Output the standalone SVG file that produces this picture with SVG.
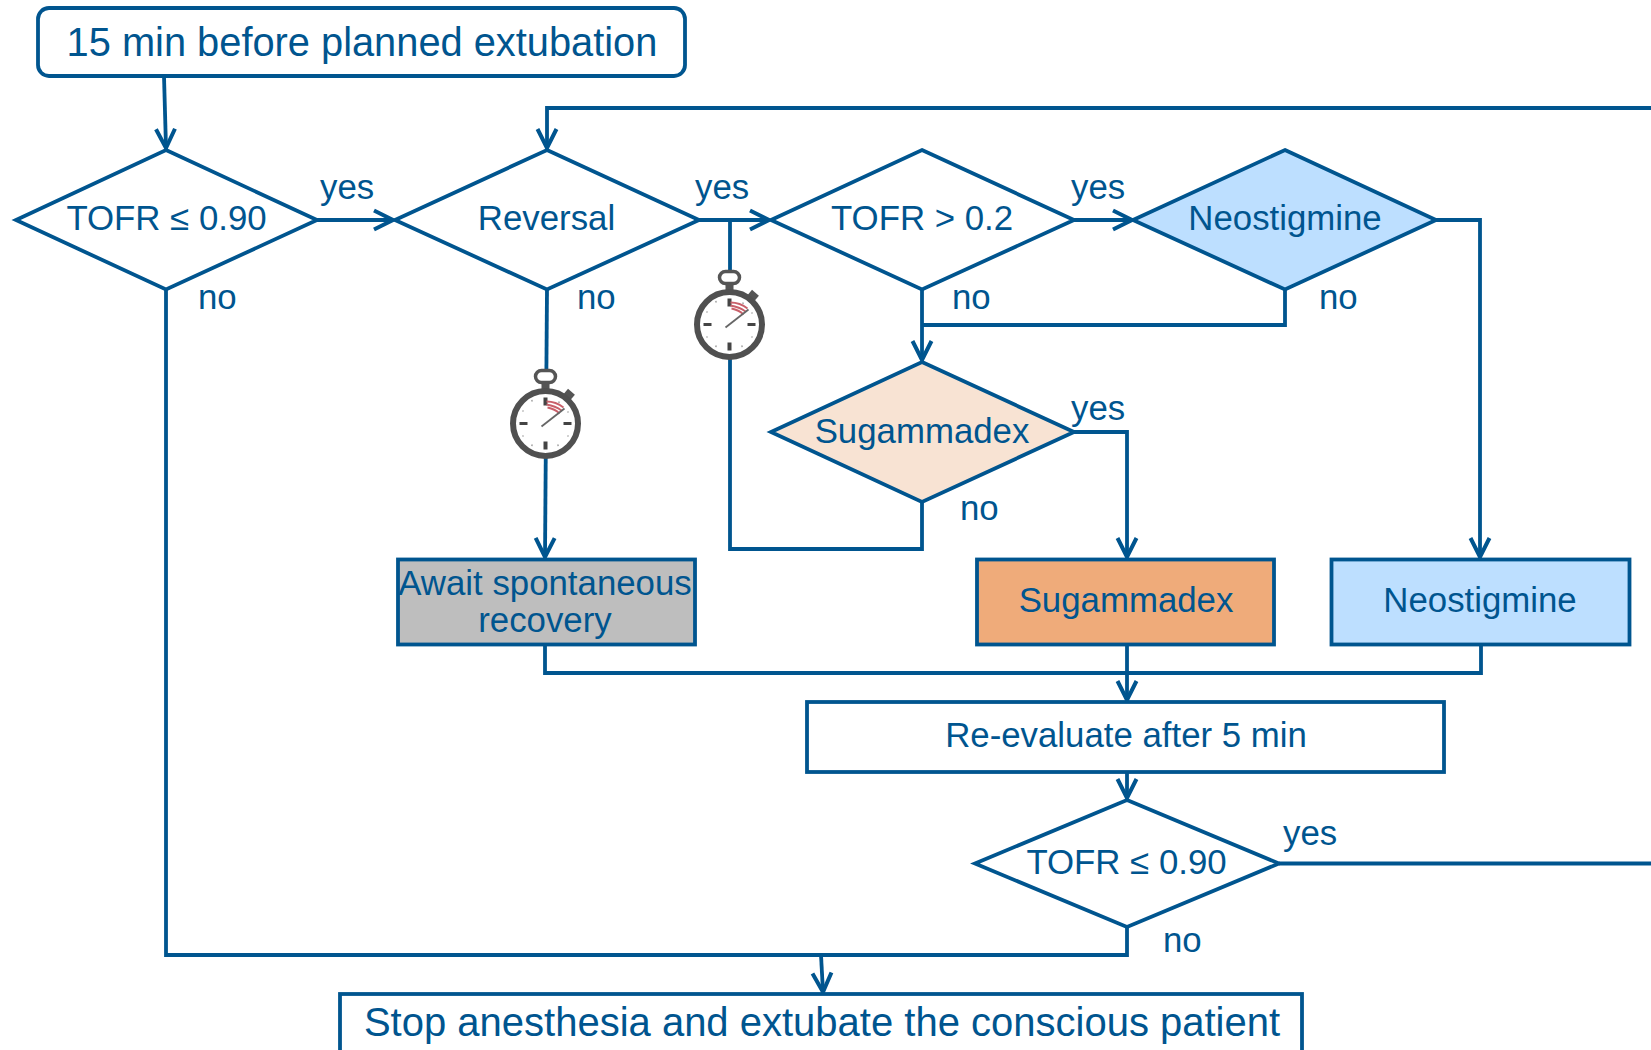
<svg xmlns="http://www.w3.org/2000/svg" xmlns:xlink="http://www.w3.org/1999/xlink" width="1651" height="1050" viewBox="0 0 1651 1050">
<style>
text{font-family:"Liberation Sans",Arial,sans-serif;font-size:34.800px;fill:#00558f;text-anchor:middle}
.l{text-anchor:start}
.s{fill:#fff;stroke:#00558f;stroke-width:3.800;stroke-linejoin:miter}
.c{fill:none;stroke:#00558f;stroke-width:3.800;stroke-linejoin:miter}
.a{marker-end:url(#arrow)}
</style>
<defs>
<marker id="arrow" markerUnits="userSpaceOnUse" markerWidth="26" markerHeight="26" refX="22" refY="13" orient="auto" viewBox="0 0 26 26">
<path d="M3 3.500L22 13L3 22.500" fill="none" stroke="#00558f" stroke-width="4"/>
</marker>
<g id="watch">
<rect x="-10" y="-53" width="20" height="12" rx="6" fill="#fff" stroke="#555" stroke-width="3.500"/>
<rect x="-4" y="-41" width="8" height="9" fill="#555"/>
<rect x="19" y="-33" width="9" height="8" fill="#555" transform="rotate(40 23 -29)"/>
<circle r="32.500" fill="#fff" stroke="#505050" stroke-width="6"/>
<path d="M-2 -26h4v8h-4zM-2 18h4v8h-4zM-26 -1.500h8v3h-8zM18 -1.500h8v3h-8z" fill="#444"/>
<path d="M13 -22l1 1.500M22 -12l1 1M22 12l1 1M12 21l1 1.500M-13 21l-1 1.500M-22 12l-1 1M-22 -12l-1 -1M-13 -22l-1 -1.500" stroke="#aaa" stroke-width="1.500"/>
<path d="M1 -22c6 0 12 2 17 6M1 -19c6 1 11 3 15 6M2 -16c5 1 9 3 12 6" fill="none" stroke="#c9606a" stroke-width="1.800"/>
<path d="M-4 3L19 -15" stroke="#666" stroke-width="1.800"/>
</g>
</defs>
<rect width="1651" height="1050" fill="#fff"/>
<g id="connectors">
<path class="c a" d="M164 76L166 148"/>
<path class="c a" d="M1651 108H547V148"/>
<path class="c a" d="M317 220H393"/>
<path class="c a" d="M699 220H769"/>
<path class="c a" d="M1074 220H1132"/>
<path class="c" d="M730 220V549H922V502"/>
<path class="c a" d="M922 289V360"/>
<path class="c" d="M1285 289V325H922"/>
<path class="c a" d="M1074 432H1127V557"/>
<path class="c a" d="M1436 220H1480V557"/>
<path class="c a" d="M547 289L545 557"/>
<path class="c" d="M545 645V673H1481V645"/>
<path class="c a" d="M1127 645V700"/>
<path class="c a" d="M1127 772V798"/>
<path class="c" d="M1279 863.500H1651"/>
<path class="c" d="M166 289V955H1127V927"/>
<path class="c a" d="M821 955L823 992"/>
</g>
<g id="n-start"><rect class="s" x="38" y="8" width="647" height="68" rx="11"/><text x="362" y="56" style="font-size:39.800px">15 min before planned extubation</text></g>
<g id="n-tofr1"><path class="s" d="M166 150L317 220L166 289.500L16 220Z"/><text x="166.500" y="230">TOFR ≤ 0.90</text></g>
<g id="n-reversal"><path class="s" d="M547 150L699 220L547 289.500L395 220Z"/><text x="546.500" y="230">Reversal</text></g>
<g id="n-tofr2"><path class="s" d="M922 150L1074 220L922 289.500L771 220Z"/><text x="922" y="230">TOFR &gt; 0.2</text></g>
<g id="n-neo-d"><path class="s" style="fill:#bddfff" d="M1285 150L1436 220L1285 289.500L1133 220Z"/><text x="1285" y="230">Neostigmine</text></g>
<g id="n-sug-d"><path class="s" style="fill:#f8e3d3" d="M922 362L1074 432L922 502L771 432Z"/><text x="922" y="443">Sugammadex</text></g>
<g id="n-await"><rect class="s" style="fill:#bebebe" x="398" y="559.500" width="297" height="85"/><text x="545" y="595">Await spontaneous</text><text x="545" y="632">recovery</text></g>
<g id="n-sug-b"><rect class="s" style="fill:#efab7a" x="977" y="559.500" width="297" height="85"/><text x="1126" y="611.500">Sugammadex</text></g>
<g id="n-neo-b"><rect class="s" style="fill:#bddfff" x="1331.500" y="559.500" width="298" height="85"/><text x="1480" y="611.500">Neostigmine</text></g>
<g id="n-reeval"><rect class="s" x="807" y="702" width="637" height="70"/><text x="1126" y="747">Re-evaluate after 5 min</text></g>
<g id="n-tofr3"><path class="s" d="M1127 800L1279 863.500L1127 927L975 863.500Z"/><text x="1126.500" y="874">TOFR ≤ 0.90</text></g>
<g id="n-stop"><rect class="s" x="340" y="994" width="962" height="70"/><text x="822" y="1036" style="font-size:40px">Stop anesthesia and extubate the conscious patient</text></g>
<g id="timer-1"><use xlink:href="#watch" href="#watch" transform="translate(545.500 423.500)"/></g>
<g id="timer-2"><use xlink:href="#watch" href="#watch" transform="translate(729.500 324.500)"/></g>
<g id="labels">
<text class="l" x="320" y="199">yes</text>
<text class="l" x="695" y="199">yes</text>
<text class="l" x="1071" y="199">yes</text>
<text class="l" x="198" y="309">no</text>
<text class="l" x="577" y="309">no</text>
<text class="l" x="952" y="309">no</text>
<text class="l" x="1319" y="309">no</text>
<text class="l" x="1071" y="420">yes</text>
<text class="l" x="960" y="520">no</text>
<text class="l" x="1283" y="845">yes</text>
<text class="l" x="1163" y="952">no</text>
</g>
</svg>
